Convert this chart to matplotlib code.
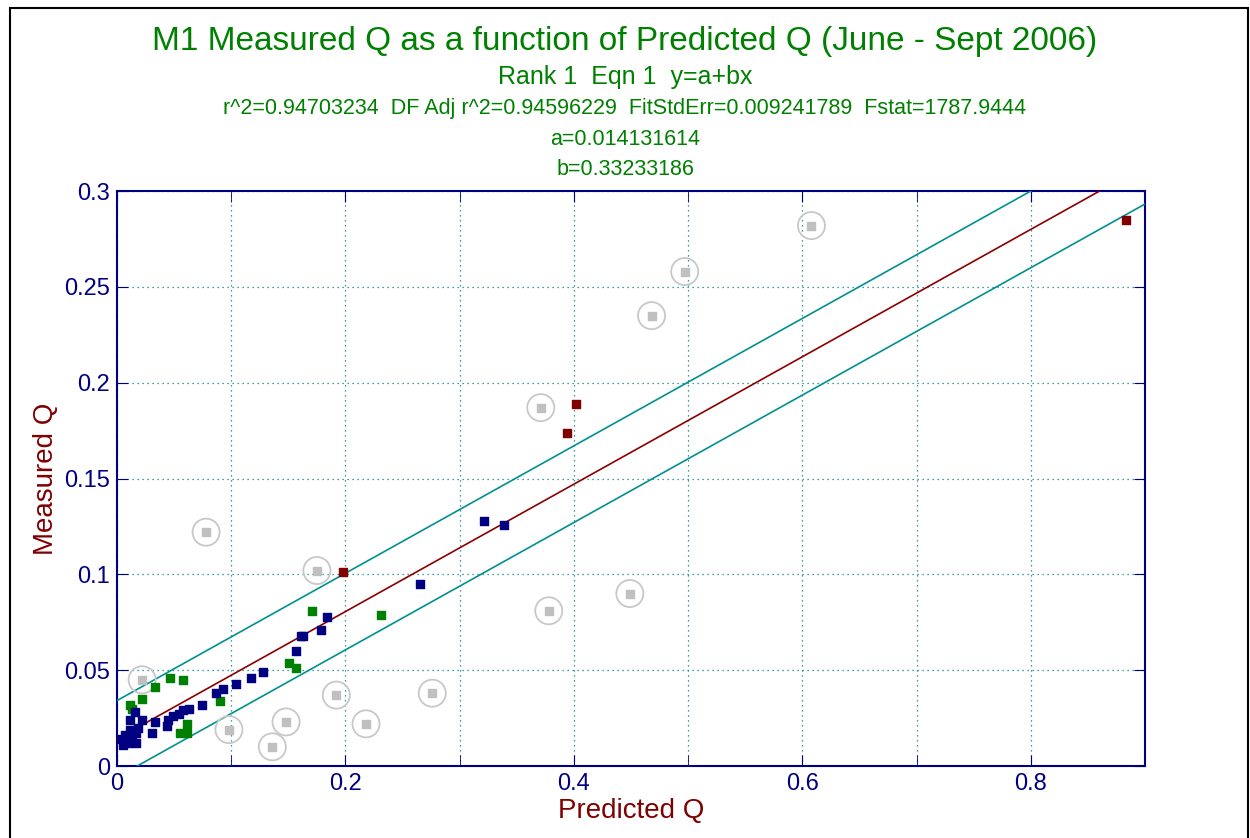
import matplotlib
matplotlib.use("Agg")
import matplotlib.pyplot as plt
import numpy as np
from matplotlib.patches import Rectangle

a = 0.014131614
b = 0.33233186
band = 0.02

blue_x = [0.265,0.184,0.179,0.161,0.163,0.157,0.128,0.117,0.104,0.093,0.087,0.074,0.063,0.058,0.054,0.049,0.045,0.044,0.033,0.031,
          0.016,0.022,0.011,0.018,0.011,0.007,0.017,0.004,0.010,0.017,0.005,0.013,0.321,0.339]
blue_y = [0.095,0.078,0.071,0.068,0.068,0.060,0.049,0.046,0.043,0.040,0.038,0.032,0.030,0.029,0.027,0.026,0.024,0.021,0.023,0.017,
          0.028,0.024,0.024,0.020,0.019,0.016,0.017,0.014,0.012,0.012,0.011,0.015,0.128,0.126]
green_x = [0.171,0.231,0.151,0.157,0.046,0.058,0.033,0.022,0.011,0.013,0.090,0.061,0.055,0.061]
green_y = [0.081,0.079,0.054,0.051,0.046,0.045,0.041,0.035,0.032,0.030,0.034,0.022,0.017,0.017]
red_x = [0.198,0.394,0.402,0.883]
red_y = [0.101,0.174,0.189,0.285]
out_x = [0.022,0.078,0.098,0.136,0.148,0.175,0.192,0.218,0.276,0.371,0.378,0.449,0.468,0.497,0.608]
out_y = [0.045,0.122,0.019,0.010,0.023,0.102,0.037,0.022,0.038,0.187,0.081,0.090,0.235,0.258,0.282]

plt.rcParams['font.family'] = ['Liberation Sans Narrow', 'Liberation Sans', 'DejaVu Sans']
fig = plt.figure(figsize=(12.5, 8.38), dpi=100)
fig.patches.append(Rectangle((0.008, -0.01), 0.99, 1.0, transform=fig.transFigure,
                             fill=False, edgecolor='black', linewidth=1.5))
ax = fig.add_axes([0.0936, 0.0859, 0.8224, 0.6861])
navy = '#000080'
ax.set_xlim(0, 0.9)
ax.set_ylim(0, 0.3)
xs = np.array([0, 0.9])
ax.plot(xs, a + b*xs, color='#8b0000', lw=1.2, zorder=3)
ax.plot(xs, a + b*xs + band, color='#009090', lw=1.2, zorder=3)
ax.plot(xs, a + b*xs - band, color='#009090', lw=1.2, zorder=3)
ax.scatter(out_x, out_y, s=380, facecolors='none', edgecolors='#c8c8c8', linewidths=1.3, zorder=4)
ax.scatter(out_x, out_y, s=28, marker='s', color='#c0c0c0', zorder=5)
ax.scatter(green_x, green_y, s=34, marker='s', color='#008000', zorder=5)
ax.scatter(blue_x, blue_y, s=34, marker='s', color='#000080', zorder=6)
ax.scatter(red_x, red_y, s=34, marker='s', color='#800000', zorder=6)

ax.set_xticks(np.arange(0, 0.91, 0.2))
ax.set_xticklabels(['0', '0.2', '0.4', '0.6', '0.8'])
ax.set_xticks(np.arange(0.1, 0.91, 0.2), minor=True)
ax.set_yticks(np.arange(0, 0.301, 0.05))
ax.set_yticklabels(['0', '0.05', '0.1', '0.15', '0.2', '0.25', '0.3'])
ax.grid(True, which='both', color='#008080', linestyle=(0, (1, 3)), lw=0.9)
for s in ax.spines.values():
    s.set_color(navy); s.set_linewidth(1.5)
ax.tick_params(which='both', direction='in', length=8, color=navy, labelcolor=navy,
               top=True, right=True, labelsize=17, pad=5)
ax.set_xlabel('Predicted Q', color='#800000', fontsize=20, labelpad=2)
ax.set_ylabel('Measured Q', color='#800000', fontsize=20, labelpad=4)

g = '#008000'
fig.text(0.5, 0.951, 'M1 Measured Q as a function of Predicted Q (June - Sept 2006)', ha='center', va='center', color=g, fontsize=24)
fig.text(0.5, 0.908, 'Rank 1  Eqn 1  y=a+bx', ha='center', va='center', color=g, fontsize=18)
fig.text(0.5, 0.870, 'r^2=0.94703234  DF Adj r^2=0.94596229  FitStdErr=0.009241789  Fstat=1787.9444', ha='center', va='center', color=g, fontsize=15.5)
fig.text(0.5, 0.834, 'a=0.014131614', ha='center', va='center', color=g, fontsize=15.5)
fig.text(0.5, 0.798, 'b=0.33233186', ha='center', va='center', color=g, fontsize=15.5)
fig.savefig('out.png', dpi=100)
